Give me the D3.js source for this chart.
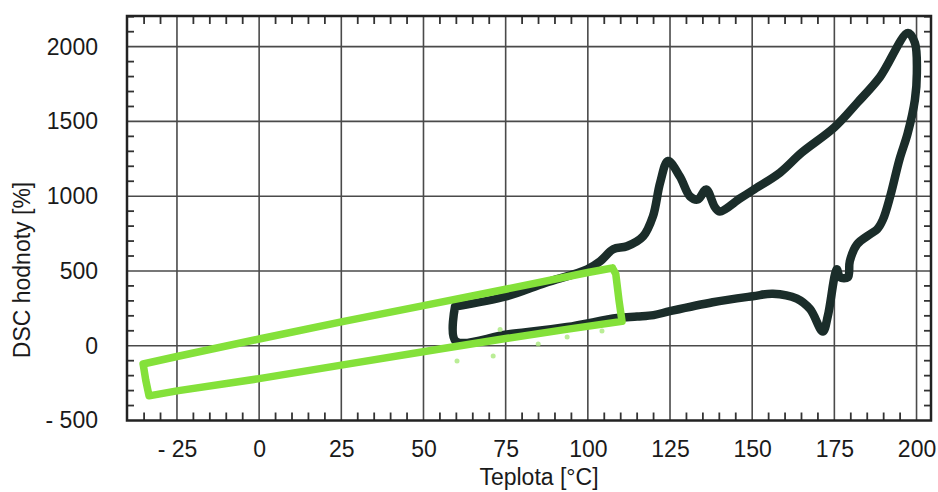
<!DOCTYPE html>
<html>
<head>
<meta charset="utf-8">
<script src="https://cdn.jsdelivr.net/npm/d3@7"></script>
<style>
  html, body { margin: 0; padding: 0; background: #fff; }
  svg { display: block; }
  text { font-family: "Liberation Sans", Arial, sans-serif; }
</style>
</head>
<body>
<script>
// ---- data ----
const xTickValues = [-25, 0, 25, 50, 75, 100, 125, 150, 175, 200];
const xTickLabels = ["- 25", "0", "25", "50", "75", "100", "125", "150", "175", "200"];
const yTickValues = [-500, 0, 500, 1000, 1500, 2000];
const yTickLabels = ["- 500", "0", "500", "1000", "1500", "2000"];
const xTitle = "Teplota [°C]";
const yTitle = "DSC hodnoty [%]";

// dark series (closed loop): temperature, DSC value
const darkTemp = [59.6, 59.8, 75.4, 93.7, 108.9, 115, 120, 125, 138, 150.2, 156.3, 163.6, 167.6, 171.5, 173, 175.2, 175.8, 176.7, 179.1, 179.7, 181.9, 185.8, 188, 189.8, 192, 194.8, 197.3, 199.5, 200.1, 199.5, 197.4,
  188.9, 182, 175, 165, 158.5, 150.2, 146.3, 140.2, 138.7, 136, 133.5, 131.1, 128, 124.4, 122, 119.8, 116.8, 111.9, 107.7, 103.7, 99.8, 87, 75.4, 59.6];
const darkValue = [262, 31, 75, 125, 185, 195, 205, 231, 291, 331, 348, 315, 245, 95, 198, 478, 511, 458, 458, 565, 678, 745, 778, 845, 1000, 1245, 1420, 1644, 1824, 2025, 2091,
  1798, 1625, 1460, 1290, 1158, 1040, 985, 898, 925, 1045, 978, 998, 1131, 1235, 1091, 865, 731, 665, 645, 564, 511, 420, 331, 262];

// green series (closed loop)
const greenTemp = [107.5, 108.5, 109.5, 110.4, 94, 75, 55, 25, 0, -25, -33.5, -34.5, -35.3, -25, 0, 25, 50, 75, 100, 107.5];
const greenValue = [520, 480, 300, 163, 111, 48, -22, -130, -220, -302, -335, -230, -122, -72, 45, 160, 268, 378, 490, 520];

// scattered green points
const dotTemp = [60.2, 71.2, 84.9, 93.7, 104.3, 73.3, 93.7];
const dotValue = [-102, -68, 12, 58, 98, 108, 111];

// ---- chart ----
const W = 938, H = 492;
const mLeft = 127, mRight = 931, mTop = 16, mBottom = 420.5;

const svg = d3.select("body").append("svg").attr("width", W).attr("height", H);
svg.append("rect").attr("width", W).attr("height", H).attr("fill", "#fff");

const x = d3.scaleLinear().domain([-40.2, 204.4]).range([mLeft, mRight]);
const y = d3.scaleLinear().domain([-500, 2205]).range([mBottom, mTop]);

const grid = svg.append("g").attr("stroke", "#4a4a4a").attr("stroke-width", 1.6);
grid.selectAll(".gx").data(xTickValues).join("line").attr("class", "gx")
  .attr("x1", d => x(d)).attr("x2", d => x(d)).attr("y1", mTop).attr("y2", mBottom);
grid.selectAll(".gy").data(yTickValues.filter(v => v > -500)).join("line").attr("class", "gy")
  .attr("y1", d => y(d)).attr("y2", d => y(d)).attr("x1", mLeft).attr("x2", mRight);

// minor ticks (every 5 °C and every 100 %)
const xMinor = d3.range(-35, 205, 5).filter(v => Math.abs(v % 25) > 0.01);
const yMinor = d3.range(-400, 2201, 100).filter(v => Math.abs(v % 500) > 0.01);
const mt = svg.append("g").attr("stroke", "#333").attr("stroke-width", 1.8);
xMinor.forEach(v => {
  mt.append("line").attr("x1", x(v)).attr("x2", x(v)).attr("y1", mBottom).attr("y2", mBottom - 8);
  mt.append("line").attr("x1", x(v)).attr("x2", x(v)).attr("y1", mTop).attr("y2", mTop + 8);
});
yMinor.forEach(v => {
  mt.append("line").attr("y1", y(v)).attr("y2", y(v)).attr("x1", mLeft).attr("x2", mLeft + 7);
  mt.append("line").attr("y1", y(v)).attr("y2", y(v)).attr("x1", mRight).attr("x2", mRight - 7);
});

// series
const line = d3.line().x(d => x(d[0])).y(d => y(d[1]));
const darkPts = darkTemp.map((t, i) => [t, darkValue[i]]);
const greenPts = greenTemp.map((t, i) => [t, greenValue[i]]);

svg.append("path").datum(darkPts)
  .attr("d", line.curve(d3.curveCatmullRom.alpha(0.5)))
  .attr("fill", "none").attr("stroke", "#1b2d2a").attr("stroke-width", 8.5)
  .attr("stroke-linejoin", "round").attr("stroke-linecap", "round");

svg.append("g").selectAll("circle").data(dotTemp.map((t, i) => [t, dotValue[i]])).join("circle")
  .attr("cx", d => x(d[0])).attr("cy", d => y(d[1])).attr("r", 2.5)
  .attr("fill", "#a9e97c").attr("opacity", 0.8);

svg.append("path").datum(greenPts)
  .attr("d", line.curve(d3.curveLinear))
  .attr("fill", "none").attr("stroke", "#84e13a").attr("stroke-width", 7.5)
  .attr("stroke-linejoin", "round").attr("stroke-linecap", "round");

// frame
svg.append("rect").attr("x", mLeft).attr("y", mTop).attr("width", mRight - mLeft).attr("height", mBottom - mTop)
  .attr("fill", "none").attr("stroke", "#222").attr("stroke-width", 2.5);

// axes
const xAxis = d3.axisBottom(x).tickValues(xTickValues)
  .tickFormat((d, i) => xTickLabels[i]).tickSize(0).tickPadding(20);
const gx = svg.append("g").attr("transform", `translate(0,${mBottom})`).call(xAxis);
gx.select(".domain").remove();
gx.selectAll("text").attr("font-size", 23).attr("fill", "#1a1a1a")
  .attr("font-family", "'Liberation Sans', Arial, sans-serif");

const yAxis = d3.axisLeft(y).tickValues(yTickValues)
  .tickFormat((d, i) => yTickLabels[i]).tickSize(0).tickPadding(29);
const gy = svg.append("g").attr("transform", `translate(${mLeft},0)`).call(yAxis);
gy.select(".domain").remove();
gy.selectAll("text").attr("font-size", 23).attr("fill", "#1a1a1a")
  .attr("font-family", "'Liberation Sans', Arial, sans-serif");

svg.append("text").attr("x", 539).attr("y", 485).attr("text-anchor", "middle")
  .attr("font-size", 23).attr("fill", "#1a1a1a").text(xTitle);
svg.append("text").attr("transform", "translate(30,270) rotate(-90)").attr("text-anchor", "middle")
  .attr("font-size", 23).attr("fill", "#1a1a1a").text(yTitle);
</script>
</body>
</html>
